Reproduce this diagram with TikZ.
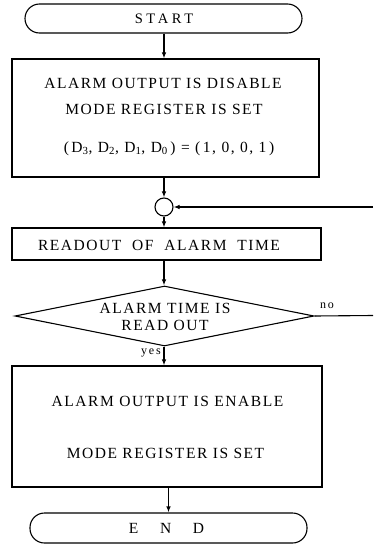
\documentclass[tikz,border=0pt]{standalone}
\usepackage{fontspec}
\setmainfont{Liberation Serif}
\usetikzlibrary{shapes.geometric,arrows.meta}
\begin{document}
\begin{tikzpicture}[x=1pt,y=-1pt,line width=1.1pt,
  every node/.style={inner sep=0pt},
  txt/.style={font=\fontsize{15.5}{18}\selectfont\addfontfeatures{LetterSpace=10}},
  small/.style={font=\fontsize{12}{14}\selectfont\addfontfeatures{LetterSpace=15}},
  boxed/.style={draw,rectangle},
  term/.style={draw,rectangle,rounded corners=14.5pt},
  arr/.style={-{Latex[length=6pt,width=4.5pt]}}]
\useasboundingbox (0,0) rectangle (373,544);
% nodes
\node[term,minimum width=277pt,minimum height=29pt] (start) at (163.5,18.5) {};
\node[txt,font=\fontsize{14.5}{17}\selectfont\addfontfeatures{LetterSpace=25}] (tstart) at (164,19) {START};
\node[boxed,minimum width=307pt,minimum height=118pt] (b1) at (165.5,118) {};
\node[txt] (t1a) at (163,83) {ALARM OUTPUT IS DISABLE};
\node[txt] (t1b) at (164,109) {MODE REGISTER IS SET};
\node[txt] (t1c) at (169,149) {(\,D\textsubscript{3},\ D\textsubscript{2},\ D\textsubscript{1},\ D\textsubscript{0}\,) = (\,1,\ 0,\ 0,\ 1\,)};
\node[draw,circle,minimum size=18pt] (circ) at (164,207) {};
\node[boxed,minimum width=309pt,minimum height=32pt] (b2) at (166.5,244) {};
\node[txt] (t2) at (159,245) {READOUT\ \ OF\ \ ALARM\ \ TIME};
\node[draw,diamond,minimum width=299pt,minimum height=60pt] (d) at (164.5,316) {};
\node[txt,align=center] (td) at (165,317) {ALARM TIME IS\\[-1pt]READ OUT};
\node[boxed,minimum width=310pt,minimum height=121pt] (b3) at (167,426.5) {};
\node[txt] (t3a) at (167.5,401) {ALARM OUTPUT IS ENABLE};
\node[txt] (t3b) at (165.5,453) {MODE REGISTER IS SET};
\node[term,minimum width=277pt,minimum height=30pt] (end) at (168.5,528) {};
\node[txt] (tend) at (166.5,528.5) {E\ \ \ \ N\ \ \ \ D};
\node[small] (no) at (327,306) {no};
\node[small] (yes) at (151,353) {yes};
\coordinate (fb) at (373,207);
\coordinate (noend) at (373,315.5);
% connectors
\draw[arr] (start.south -| circ) -- (b1.north -| circ);
\draw[arr] (b1.south -| circ) -- (circ.north);
\draw[arr] (circ.south) -- (b2.north -| circ);
\draw[arr] (b2.south -| circ) -- (d.north -| circ);
\draw[arr] (d.south -| circ) -- (b3.north -| circ);
\draw[arr] (b3.south -| end) -- (end.north);
\draw[arr] (fb) -- (circ.east);
\draw (d.east) -- (noend);
\end{tikzpicture}
\end{document}
